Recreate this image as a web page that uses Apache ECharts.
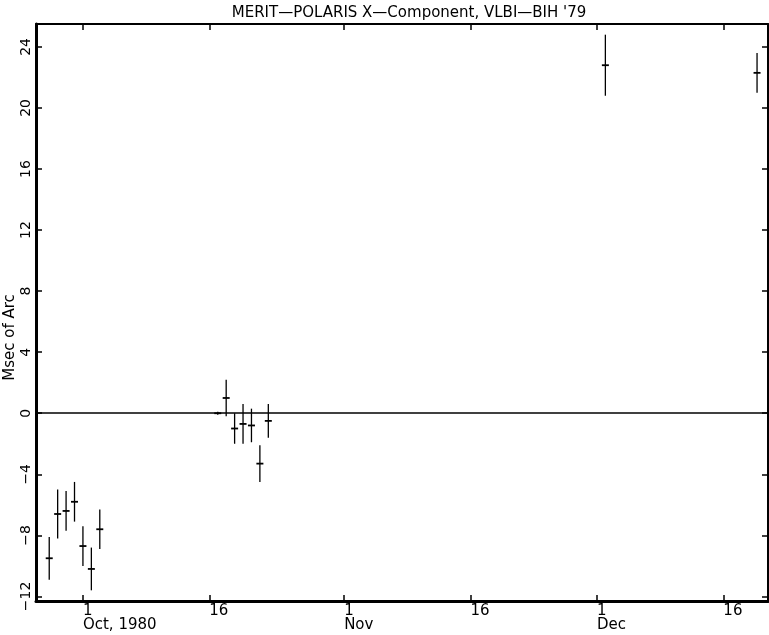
<!DOCTYPE html>
<html>
<head>
<meta charset="utf-8">
<script src="https://cdn.jsdelivr.net/npm/echarts@6/dist/echarts.min.js"></script>
<style>html,body{margin:0;padding:0;background:#fff}#chart{width:769px;height:635px}</style>
</head>
<body>
<div id="chart"></div>
<script>
// days counted from 1 Oct 1980 (day 0)
var obsDay = [-4, -3, -2, -1, 0, 1, 2, 16, 17, 18, 19, 20, 21, 22, 62, 80];
var obsValue = [-9.5, -6.6, -6.4, -5.8, -8.7, -10.2, -7.6, 0.0, 1.0, -1.0, -0.7, -0.8, -3.3, -0.5, 22.8, 22.3];
var obsError = [1.4, 1.6, 1.3, 1.3, 1.3, 1.4, 1.3, 0.1, 1.2, 1.0, 1.3, 1.1, 1.2, 1.1, 2.0, 1.3];
var dayTicks = [0, 15, 31, 46, 61, 76];
var dayLabels = ['1\nOct, 1980', '16', '1\nNov', '16', '1\nDec', '16'];
var yTicks = [-12, -8, -4, 0, 4, 8, 12, 16, 20, 24];

var font = 'DejaVu Sans';
var points = obsDay.map(function (d, i) { return [d, obsValue[i], obsError[i]]; });

function frameX(pos, w) {
    return {
        type: 'value', position: pos, min: -5.57, max: 81.3,
        axisLine: { onZero: false, lineStyle: { color: '#000', width: w } },
        axisTick: { inside: true, length: 6, customValues: dayTicks, lineStyle: { color: '#000', width: 1.5 } },
        axisLabel: pos == 'bottom' ? {
            customValues: dayTicks,
            formatter: function (v) { return dayLabels[dayTicks.indexOf(v)]; },
            align: 'left', color: '#000', fontSize: 15, fontFamily: font, lineHeight: 14, margin: 3
        } : { show: false },
        splitLine: { show: false }
    };
}
function frameY(pos, w) {
    var ax = {
        type: 'value', position: pos, min: -12.3, max: 25.5,
        axisLine: { onZero: false, lineStyle: { color: '#000', width: w } },
        axisTick: { inside: true, length: 6, customValues: yTicks, lineStyle: { color: '#000', width: 1.5 } },
        axisLabel: pos == 'left' ? {
            customValues: yTicks, rotate: 90, margin: 3,
            formatter: function (v) { return String(v).replace('-', '\u2212'); },
            color: '#000', fontSize: 14, fontFamily: font
        } : { show: false },
        splitLine: { show: false }
    };
    if (pos == 'left') {
        ax.name = 'Msec of Arc';
        ax.nameLocation = 'middle';
        ax.nameGap = 18;
        ax.nameMoveOverlap = false;
        ax.nameTextStyle = { color: '#000', fontSize: 15, fontFamily: font, padding: [0, 50, 0, 0] };
    }
    return ax;
}

var chart = echarts.init(document.getElementById('chart'));
chart.setOption({
    animation: false,
    title: {
        text: "MERIT\u2014POLARIS X\u2014Component, VLBI\u2014BIH '79",
        left: 404, top: 1, textAlign: 'center',
        textStyle: { color: '#000', fontSize: 15, fontWeight: 'normal', fontFamily: font }
    },
    grid: { left: 36, right: 1, top: 24, bottom: 34, outerBoundsMode: 'none' },
    xAxis: [frameX('bottom', 3), frameX('top', 2)],
    yAxis: [frameY('left', 3), frameY('right', 2)],
    series: [{
        type: 'custom',
        data: points,
        encode: { x: 0, y: 1 },
        renderItem: function (params, api) {
            var x = api.value(0), v = api.value(1), e = api.value(2);
            var top = api.coord([x, v + e]);
            var bot = api.coord([x, v - e]);
            var mid = api.coord([x, v]);
            return {
                type: 'group',
                children: [
                    { type: 'line', shape: { x1: top[0], y1: top[1], x2: bot[0], y2: bot[1] }, style: { stroke: '#000', lineWidth: 1.3 } },
                    { type: 'line', shape: { x1: mid[0] - 3.5, y1: mid[1], x2: mid[0] + 3.5, y2: mid[1] }, style: { stroke: '#000', lineWidth: 1.8 } }
                ]
            };
        },
        markLine: {
            silent: true, symbol: 'none', label: { show: false },
            lineStyle: { color: '#000', width: 1.5, type: 'solid' },
            data: [{ yAxis: 0 }]
        }
    }]
});
</script>
</body>
</html>
